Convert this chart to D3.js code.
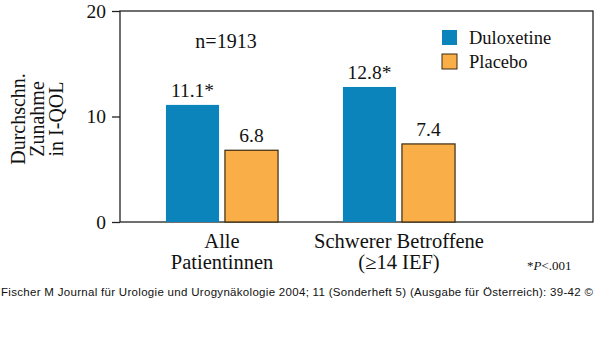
<!DOCTYPE html>
<html>
<head>
    <meta charset="utf-8">
    <script src="https://d3js.org/d3.v7.min.js"></script>
    <style>
        body { margin: 0; background: #fff; }
        text { font-family: "Liberation Serif", "Times New Roman", serif; fill: #111; }
        .foot { font-family: "Liberation Sans", Arial, sans-serif; }
    </style>
</head>
<body>
<div id="chart"></div>
<script>
    // data
    const groups = ["Alle|Patientinnen", "Schwerer Betroffene|(≥14 IEF)"];
    const series = ["Duloxetine", "Placebo"];
    const duloxetine = [11.1, 12.8];
    const placebo = [6.8, 7.4];
    const valueLabels = [["11.1*", "6.8"], ["12.8*", "7.4"]];
    const yTicks = [0, 10, 20];
    const colors = ["#0B84BC", "#F9AE48"];

    const width = 600, height = 340;
    const svg = d3.select("#chart").append("svg")
        .attr("width", width).attr("height", height);

    const frame = { left: 120, right: 593, top: 11, bottom: 222 };

    const y = d3.scaleLinear().domain([0, 20]).range([frame.bottom, frame.top]);
    const x0 = d3.scaleBand().domain(groups).range([133.5, 487.5]).padding(0);
    const x1 = d3.scaleBand().domain(series).range([0, x0.bandwidth()]).paddingInner(0.1).paddingOuter(0.55);

    // frame box
    svg.append("rect")
        .attr("x", frame.left).attr("y", frame.top)
        .attr("width", frame.right - frame.left).attr("height", frame.bottom - frame.top)
        .attr("fill", "none").attr("stroke", "#222").attr("stroke-width", 1.3);

    // y axis
    const yAxis = svg.append("g")
        .attr("transform", `translate(${frame.left},0)`)
        .call(d3.axisLeft(y).tickValues(yTicks).tickSize(8).tickPadding(6));
    yAxis.select(".domain").remove();
    yAxis.selectAll("line").attr("stroke", "#222").attr("stroke-width", 1.3);
    yAxis.selectAll("text")
        .style("font-family", "Liberation Serif, serif")
        .style("font-size", "19.5px").attr("fill", "#111");

    // y title
    const yTitle = svg.append("text")
        .attr("transform", "translate(0,119) rotate(-90)")
        .attr("text-anchor", "middle")
        .style("font-size", "20px");
    ["Durchschn.", "Zunahme", "in I-QOL"].forEach((t, i) => {
        yTitle.append("tspan").attr("x", 0).attr("y", 25 + i * 19).text(t);
    });

    // bars
    const data = groups.map((g, i) => ({ g, vals: [duloxetine[i], placebo[i]], labels: valueLabels[i] }));
    const grp = svg.selectAll(".grp").data(data).enter().append("g")
        .attr("transform", d => `translate(${x0(d.g)},0)`);

    grp.selectAll("rect").data(d => d.vals.map((v, j) => ({ s: series[j], v, j })))
        .enter().append("rect")
        .attr("x", d => x1(d.s))
        .attr("y", d => y(d.v))
        .attr("width", x1.bandwidth())
        .attr("height", d => y(0) - y(d.v))
        .attr("fill", d => colors[d.j])
        .attr("stroke", d => d.j === 1 ? "#3a2a10" : "none")
        .attr("stroke-width", 1.2);

    grp.selectAll(".val").data(d => d.vals.map((v, j) => ({ s: series[j], v, lab: d.labels[j] })))
        .enter().append("text")
        .attr("class", "val")
        .attr("x", d => x1(d.s) + x1.bandwidth() / 2)
        .attr("y", d => y(d.v) - 8)
        .attr("text-anchor", "middle")
        .style("font-size", "19.5px")
        .text(d => d.lab);

    // category labels
    grp.each(function (d) {
        const t = d3.select(this).append("text")
            .attr("text-anchor", "middle")
            .style("font-size", "20.5px");
        d.g.split("|").forEach((line, i) => {
            t.append("tspan").attr("x", x0.bandwidth() / 2).attr("y", 248 + i * 21).text(line);
        });
    });

    // n label
    svg.append("text").attr("x", 226).attr("y", 48)
        .attr("text-anchor", "middle").style("font-size", "20px").text("n=1913");

    // legend
    const legend = svg.append("g").attr("transform", "translate(442,30)");
    series.forEach((s, i) => {
        legend.append("rect").attr("x", 0).attr("y", i * 24)
            .attr("width", 15).attr("height", 15)
            .attr("fill", colors[i])
            .attr("stroke", i === 1 ? "#3a2a10" : "none").attr("stroke-width", 1);
        legend.append("text").attr("x", 27).attr("y", i * 24 + 14)
            .style("font-size", "18.5px").text(s);
    });

    // p-value note
    const pn = svg.append("text").attr("x", 527).attr("y", 270).style("font-size", "13px");
    pn.append("tspan").text("*");
    pn.append("tspan").style("font-style", "italic").text("P");
    pn.append("tspan").text("<.001");

    // footer
    svg.append("text").attr("class", "foot")
        .attr("x", 1).attr("y", 296)
        .attr("textLength", 592).attr("lengthAdjust", "spacing")
        .style("font-size", "11.5px")
        .text("Fischer M Journal für Urologie und Urogynäkologie 2004; 11 (Sonderheft 5) (Ausgabe für Österreich): 39-42 ©");
</script>
</body>
</html>
